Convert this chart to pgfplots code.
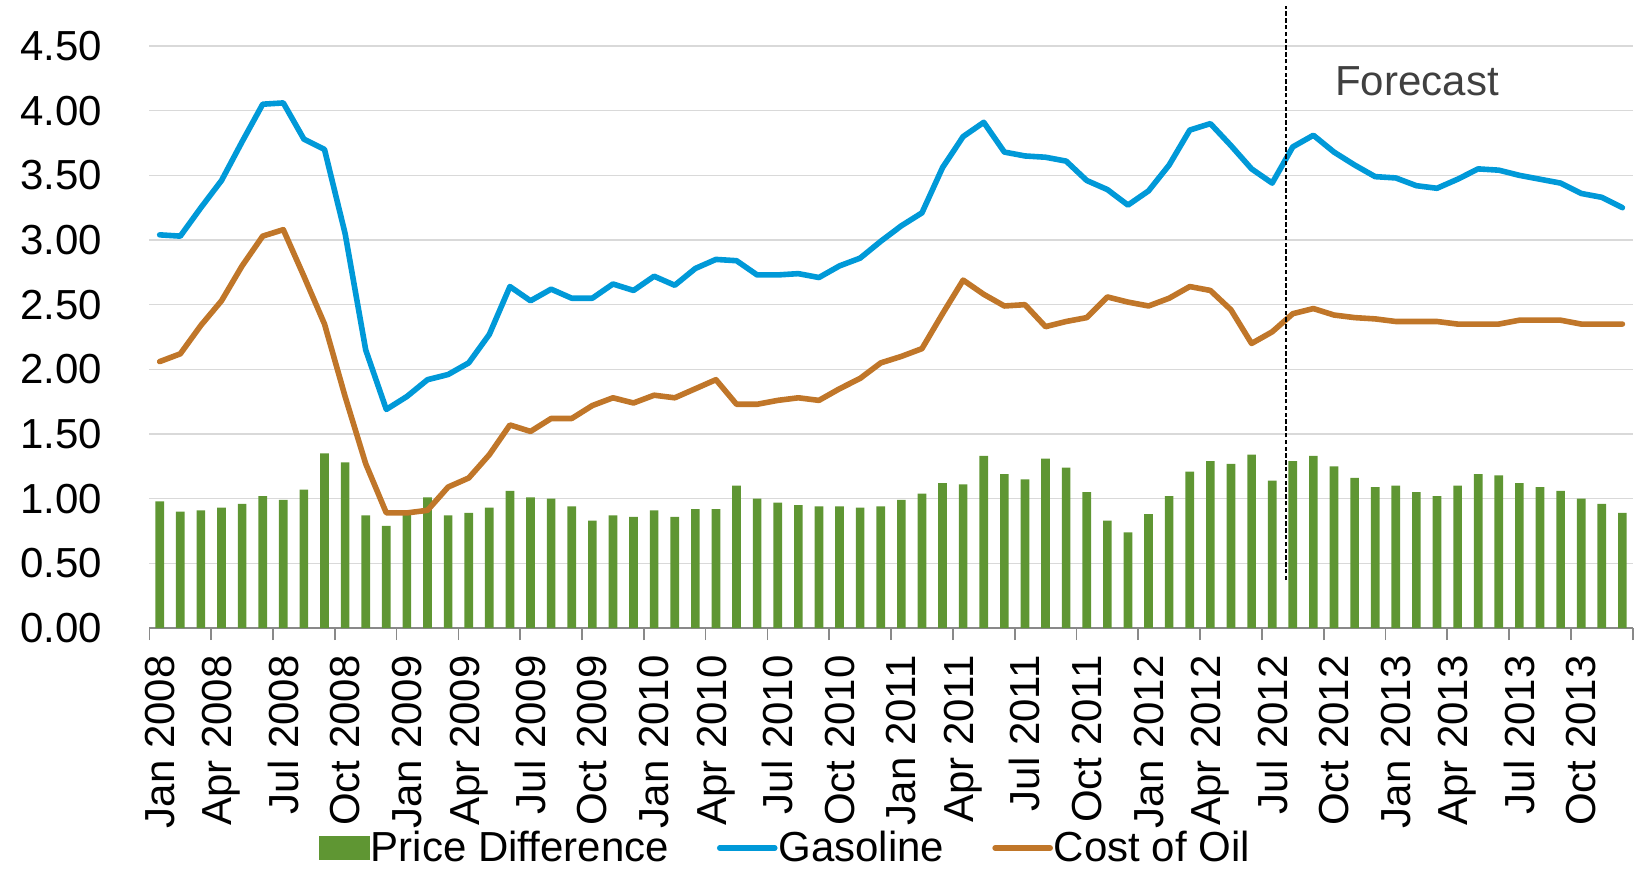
\documentclass[border=0pt]{standalone}
\usepackage{pgfplots}
\pgfplotsset{compat=1.18}
\usepackage{pgfplotstable}
\usepackage{fontspec}
\setmainfont{Liberation Sans}
\definecolor{pdgreen}{RGB}{95,150,51}
\definecolor{gasblue}{RGB}{0,153,216}
\definecolor{oilorange}{RGB}{192,118,41}
\definecolor{gridgray}{RGB}{217,217,217}
\definecolor{axgray}{RGB}{137,137,137}
\definecolor{fcgray}{RGB}{64,64,64}

\pgfplotstableread{
idx bar gas oil
0 0.98 3.04 2.06
1 0.90 3.03 2.12
2 0.91 3.25 2.34
3 0.93 3.46 2.53
4 0.96 3.76 2.80
5 1.02 4.05 3.03
6 0.99 4.06 3.08
7 1.07 3.78 2.72
8 1.35 3.70 2.35
9 1.28 3.05 1.79
10 0.87 2.15 1.27
11 0.79 1.69 0.89
12 0.88 1.79 0.89
13 1.01 1.92 0.91
14 0.87 1.96 1.09
15 0.89 2.05 1.16
16 0.93 2.27 1.34
17 1.06 2.64 1.57
18 1.01 2.53 1.52
19 1.00 2.62 1.62
20 0.94 2.55 1.62
21 0.83 2.55 1.72
22 0.87 2.66 1.78
23 0.86 2.61 1.74
24 0.91 2.72 1.80
25 0.86 2.65 1.78
26 0.92 2.78 1.85
27 0.92 2.85 1.92
28 1.10 2.84 1.73
29 1.00 2.73 1.73
30 0.97 2.73 1.76
31 0.95 2.74 1.78
32 0.94 2.71 1.76
33 0.94 2.80 1.85
34 0.93 2.86 1.93
35 0.94 2.99 2.05
36 0.99 3.11 2.10
37 1.04 3.21 2.16
38 1.12 3.56 2.43
39 1.11 3.80 2.69
40 1.33 3.91 2.58
41 1.19 3.68 2.49
42 1.15 3.65 2.50
43 1.31 3.64 2.33
44 1.24 3.61 2.37
45 1.05 3.46 2.40
46 0.83 3.39 2.56
47 0.74 3.27 2.52
48 0.88 3.38 2.49
49 1.02 3.58 2.55
50 1.21 3.85 2.64
51 1.29 3.90 2.61
52 1.27 3.73 2.46
53 1.34 3.55 2.20
54 1.14 3.44 2.29
55 1.29 3.72 2.43
56 1.33 3.81 2.47
57 1.25 3.68 2.42
58 1.16 3.58 2.40
59 1.09 3.49 2.39
60 1.10 3.48 2.37
61 1.05 3.42 2.37
62 1.02 3.40 2.37
63 1.10 3.47 2.35
64 1.19 3.55 2.35
65 1.18 3.54 2.35
66 1.12 3.50 2.38
67 1.09 3.47 2.38
68 1.06 3.44 2.38
69 1.00 3.36 2.35
70 0.96 3.33 2.35
71 0.89 3.25 2.35
}\datatable

\begin{document}
\begin{tikzpicture}
\useasboundingbox (-74.7pt,-123pt) rectangle (744.3pt,314pt);
\begin{axis}[
  at={(0pt,0pt)}, anchor=south west,
  scale only axis,
  width=741.65pt, height=291pt,
  xmin=-0.5, xmax=71.5,
  ymin=0, ymax=4.5,
  clip=false,
  axis x line*=bottom,
  axis y line*=left,
  x axis line style={-, draw=axgray, line width=0.85pt},
  y axis line style={draw=none},
  ytick={0,0.5,...,4.5},
  ymajorgrids,
  major grid style={draw=gridgray, line width=0.8pt},
  ytick style={draw=none},
  xtick={0,3,...,69},
  xticklabels={Jan 2008,Apr 2008,Jul 2008,Oct 2008,Jan 2009,Apr 2009,Jul 2009,Oct 2009,Jan 2010,Apr 2010,Jul 2010,Oct 2010,Jan 2011,Apr 2011,Jul 2011,Oct 2011,Jan 2012,Apr 2012,Jul 2012,Oct 2012,Jan 2013,Apr 2013,Jul 2013,Oct 2013},
  xtick style={draw=none},
  extra x ticks={-0.5,2.5,...,71.5},
  extra x tick labels={},
  extra x tick style={xtick style={draw=axgray, line width=0.85pt}, major tick length=6pt, tick align=outside},
  yticklabel style={/pgf/number format/.cd, fixed, fixed zerofill, precision=2, /tikz/.cd, anchor=east, inner xsep=23.5pt, inner ysep=0pt},
  xticklabel style={rotate=90, anchor=east, inner xsep=13.5pt, inner ysep=0pt},
  /pgf/number format/assume math mode=true,
  tick label style={font=\fontsize{21}{25}\selectfont},
  legend columns=3,
  legend style={at={(0.4285,-0.378)}, anchor=center, draw=none, fill=none, inner sep=0pt,
    font=\fontsize{21}{25}\selectfont,
    nodes={inner xsep=0.5pt, inner ysep=1pt},
    /tikz/every even column/.append style={column sep=23.5pt}},
]
\addplot[ybar, bar width=0.42, bar shift=0pt, fill=pdgreen, draw=none,
  legend image code/.code={\fill[pdgreen] (0pt,-6pt) rectangle (25.5pt,6pt);}]
  table[x=idx, y=bar] {\datatable};
\addlegendentry{Price Difference}
\addplot[gasblue, line width=2.8pt, line join=round, line cap=round, no marks,
  legend image code/.code={\draw[gasblue, line width=2.8pt] (0pt,0pt) -- (27.5pt,0pt);}]
  table[x=idx, y=gas] {\datatable};
\addlegendentry{Gasoline}
\addplot[oilorange, line width=2.8pt, line join=round, line cap=round, no marks,
  legend image code/.code={\draw[oilorange, line width=2.8pt] (0pt,0pt) -- (27.5pt,0pt);}]
  table[x=idx, y=oil] {\datatable};
\addlegendentry{Cost of Oil}
\addplot[black, line width=0.9pt, dash pattern=on 2.2pt off 1.2pt, forget plot]
  coordinates {(54.66,0.37) (54.66,4.81)};
\node[font=\fontsize{21}{25}\selectfont, text=fcgray] at (axis cs:61.03,4.23) {Forecast};
\end{axis}
\end{tikzpicture}
\end{document}
